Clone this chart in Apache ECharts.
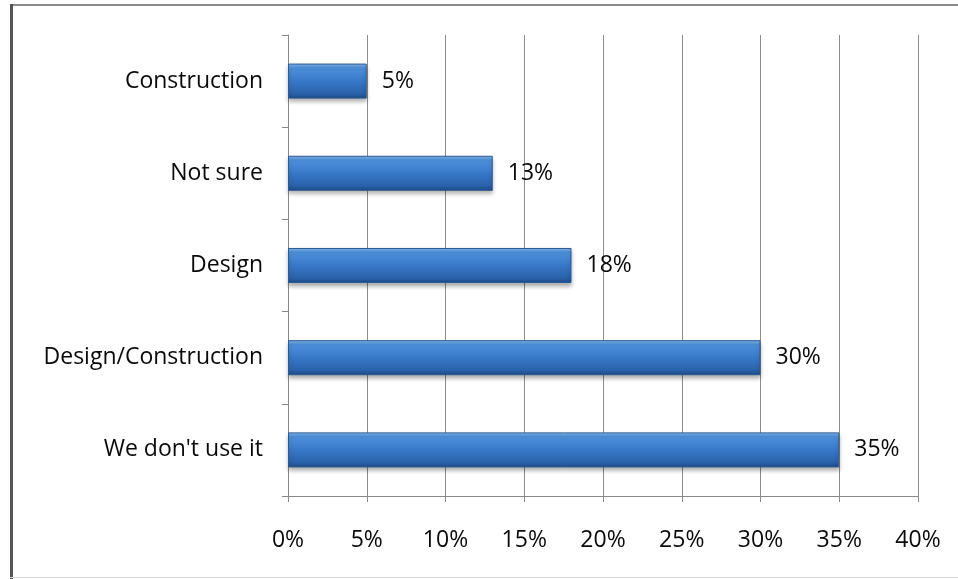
<!DOCTYPE html>
<html>
<head>
<meta charset="utf-8">
<script src="https://cdn.jsdelivr.net/npm/echarts@6/dist/echarts.min.js"></script>
<style>
  html, body { margin: 0; padding: 0; background: #fff; }
  #chart { width: 958px; height: 579px; }
</style>
</head>
<body>
<div id="chart"></div>
<script>
// Categories listed bottom-to-top (category axis runs upward)
const categories = ["We don't use it", 'Design/Construction', 'Design', 'Not sure', 'Construction'];
const shares = [35, 30, 18, 13, 5];
const tickValues = [0, 5, 10, 15, 20, 25, 30, 35, 40];

const chart = echarts.init(document.getElementById('chart'));
const fontFamily = '"Open Sans", "Noto Sans", sans-serif';
const textColor = '#0a0a0a';
const fontSize = 23;

chart.setOption({
  animation: false,
  backgroundColor: '#ffffff',
  grid: { left: 288, right: 40, top: 35, bottom: 83 },
  xAxis: {
    type: 'value',
    min: tickValues[0],
    max: tickValues[tickValues.length - 1],
    interval: tickValues[1] - tickValues[0],
    axisLine: { show: true, lineStyle: { color: '#888', width: 1 } },
    axisTick: { show: true, length: 6, lineStyle: { color: '#888' } },
    splitLine: { show: true, lineStyle: { color: '#8c8c8c', width: 1 } },
    axisLabel: {
      formatter: '{value}%',
      margin: 33,
      fontSize: fontSize,
      color: textColor,
      fontFamily: fontFamily
    }
  },
  yAxis: {
    type: 'category',
    data: categories,
    axisLine: { show: true, lineStyle: { color: '#888', width: 1 } },
    axisTick: { show: true, length: 6, lineStyle: { color: '#888' } },
    axisLabel: {
      margin: 25,
      fontSize: fontSize,
      color: textColor,
      fontFamily: fontFamily,
      padding: [8, 0, 0, 0]
    }
  },
  series: [{
    type: 'bar',
    data: shares,
    barWidth: '38%',
    itemStyle: {
      color: new echarts.graphic.LinearGradient(0, 0, 0, 1, [
        { offset: 0, color: '#86bbee' },
        { offset: 0.12, color: '#4f92dd' },
        { offset: 0.5, color: '#3878c8' },
        { offset: 0.85, color: '#2a62ab' },
        { offset: 1, color: '#1d4a85' }
      ]),
      borderColor: '#2b5a94',
      borderWidth: 1,
      shadowColor: 'rgba(0,0,0,0.3)',
      shadowBlur: 4,
      shadowOffsetY: 3
    },
    label: {
      show: true,
      position: 'right',
      distance: 15,
      formatter: '{c}%',
      fontSize: fontSize,
      color: textColor,
      fontFamily: fontFamily,
      padding: [6, 0, 0, 0]
    }
  }],
  graphic: [
    { type: 'line', shape: { x1: 10, y1: 5, x2: 958, y2: 5 }, style: { stroke: '#8a8a8a', lineWidth: 2 } },
    { type: 'line', shape: { x1: 11.5, y1: 4, x2: 11.5, y2: 579 }, style: { stroke: '#555', lineWidth: 3 } },
    { type: 'line', shape: { x1: 10, y1: 577.5, x2: 958, y2: 577.5 }, style: { stroke: '#d8d8d8', lineWidth: 1 } }
  ]
});
</script>
</body>
</html>
